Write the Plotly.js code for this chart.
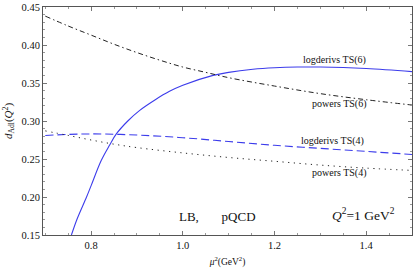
<!DOCTYPE html>
<html>
<head>
<meta charset="utf-8">
<script src="https://cdn.plot.ly/plotly-3.0.1.min.js"></script>
<style>html,body{margin:0;padding:0;background:#fff;}#chart{width:414px;height:274px;}</style>
</head>
<body>
<div id="chart"></div>
<script>
// logderivs TS(6) (solid blue)
const mu2_ld6 = [0.757, 0.77, 0.79, 0.80, 0.822, 0.84, 0.855, 0.88, 0.906, 0.94, 0.971, 1.0, 1.066, 1.1, 1.153, 1.2, 1.25, 1.3, 1.4, 1.5];
const d_ld6   = [0.150, 0.172, 0.200, 0.215, 0.248, 0.268, 0.283, 0.300, 0.314, 0.328, 0.339, 0.347, 0.360, 0.364, 0.368, 0.370, 0.371, 0.371, 0.369, 0.365];
// powers TS(6) (dash-dot black)
const mu2_p6 = [0.7, 0.75, 0.8, 0.85, 0.9, 0.95, 1.0, 1.05, 1.1, 1.2, 1.3, 1.4, 1.5];
const d_p6   = [0.438, 0.425, 0.413, 0.401, 0.390, 0.380, 0.371, 0.364, 0.357, 0.346, 0.336, 0.328, 0.321];
// logderivs TS(4) (dashed blue)
const mu2_ld4 = [0.7, 0.8, 0.9, 1.0, 1.1, 1.2, 1.3, 1.4, 1.5];
const d_ld4   = [0.281, 0.283, 0.2815, 0.278, 0.273, 0.268, 0.264, 0.260, 0.256];
// powers TS(4) (dotted black)
const mu2_p4 = [0.7, 0.75, 0.8, 0.85, 0.9, 1.0, 1.1, 1.2, 1.3, 1.4, 1.5];
const d_p4   = [0.287, 0.281, 0.275, 0.2695, 0.265, 0.258, 0.252, 0.247, 0.242, 0.238, 0.235];

const curveLabels = ["logderivs TS(6)", "powers TS(6)", "logderivs TS(4)", "powers TS(4)"];
const labelX = [1.331, 1.342, 1.326, 1.342];
const labelY = [0.3797, 0.3224, 0.2742, 0.2316];

const xTicks = [0.8, 1.0, 1.2, 1.4];
const xTickText = ['0.8', '1.0', '1.2', '1.4'];
const yTicks = [0.15, 0.20, 0.25, 0.30, 0.35, 0.40, 0.45];
const yTickText = ['0.15', '0.20', '0.25', '0.30', '0.35', '0.40', '0.45'];

const blue = 'rgb(60,60,235)';
const traces = [
  {x: mu2_ld6, y: d_ld6, mode: 'lines', line: {color: blue, width: 1.1, shape: 'spline'}},
  {x: mu2_p6, y: d_p6, mode: 'lines', line: {color: '#222', width: 1, shape: 'spline', dash: '5px,3px,1.5px,3px'}},
  {x: mu2_ld4, y: d_ld4, mode: 'lines', line: {color: blue, width: 1.1, shape: 'spline', dash: '8px,4px'}},
  {x: mu2_p4, y: d_p4, mode: 'lines', line: {color: '#222', width: 1, shape: 'spline', dash: '1.2px,4.5px'}}
];

const font = {family: 'Liberation Serif, Times New Roman, serif', color: '#111'};
const annotations = curveLabels.map((t, i) => ({
  x: labelX[i], y: labelY[i], xref: 'x', yref: 'y', text: t, showarrow: false,
  font: Object.assign({}, font, {size: 10})
}));
annotations.push({x: 1.075, y: 0.175, xref: 'x', yref: 'y', text: 'LB,&nbsp;&nbsp;&nbsp;&nbsp;&nbsp;&nbsp;&nbsp;pQCD', showarrow: false, font: Object.assign({}, font, {size: 13})});
annotations.push({x: 1.394, y: 0.177, xref: 'x', yref: 'y', text: '<i>Q</i><sup>2</sup>=1 GeV<sup>2</sup>', showarrow: false, font: Object.assign({}, font, {size: 13.5})});

const axisCommon = {
  showgrid: false, zeroline: false, showline: true, linecolor: '#555', linewidth: 1,
  mirror: 'allticks', ticks: 'inside', ticklen: 4, tickwidth: 1, tickcolor: '#777',
  tickfont: Object.assign({}, font, {size: 10.5})
};

const layout = {
  width: 414, height: 274,
  margin: {l: 43, r: 2, t: 7, b: 39},
  paper_bgcolor: '#fff', plot_bgcolor: '#fff',
  showlegend: false,
  xaxis: Object.assign({}, axisCommon, {
    range: [0.695, 1.5], tickvals: xTicks, ticktext: xTickText,
    minor: {dtick: 0.05, tick0: 0.7, ticks: 'inside', ticklen: 2, tickcolor: '#999'},
    title: {text: '<i>μ</i><sup>2</sup>(GeV<sup>2</sup>)', font: Object.assign({}, font, {size: 9.5}), standoff: 8}
  }),
  yaxis: Object.assign({}, axisCommon, {
    range: [0.15, 0.45], tickvals: yTicks, ticktext: yTickText,
    minor: {dtick: 0.01, tick0: 0.15, ticks: 'inside', ticklen: 2, tickcolor: '#999'},
    title: {text: '<i>d</i><sub>Adl</sub>(<i>Q</i><sup>2</sup>)', font: Object.assign({}, font, {size: 11}), standoff: 6}
  }),
  annotations: annotations
};

Plotly.newPlot('chart', traces, layout, {displayModeBar: false, staticPlot: true});
</script>
</body>
</html>
